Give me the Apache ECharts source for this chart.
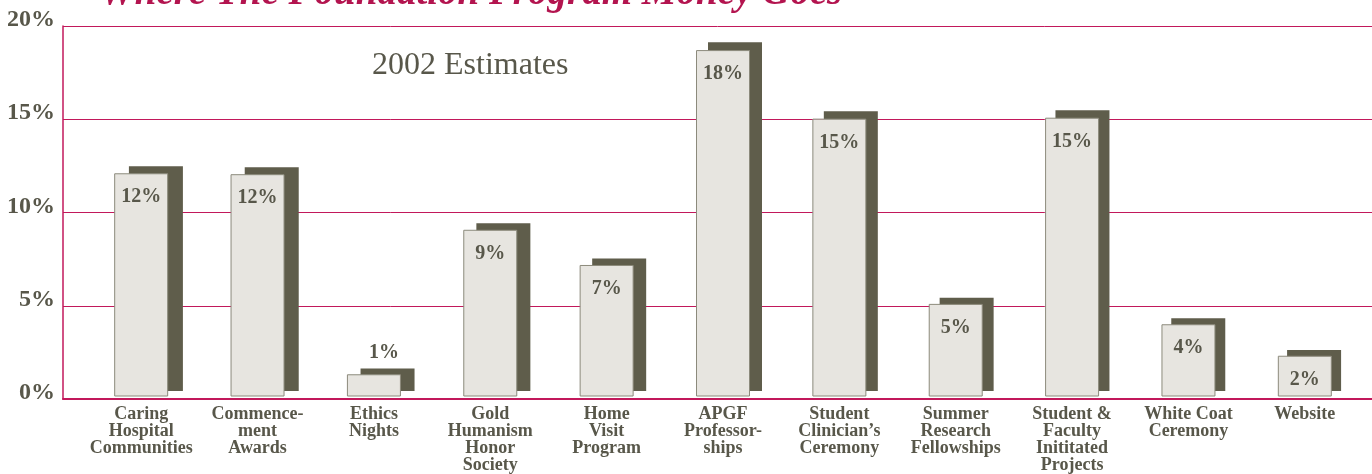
<!DOCTYPE html>
<html>
<head>
<meta charset="utf-8">
<script src="https://cdn.jsdelivr.net/npm/echarts@6/dist/echarts.min.js"></script>
<style>
  html, body { margin: 0; padding: 0; background: #fff; }
  #main { width: 1372px; height: 474px; }
</style>
</head>
<body>
<div id="main"></div>
<script>
// chart data
var categories = [
  'Caring\nHospital\nCommunities', 'Commence-\nment\nAwards', 'Ethics\nNights',
  'Gold\nHumanism\nHonor\nSociety', 'Home\nVisit\nProgram', 'APGF\nProfessor-\nships',
  'Student\nClinician\u2019s\nCeremony', 'Summer\nResearch\nFellowships',
  'Student &\nFaculty\nInititated\nProjects', 'White Coat\nCeremony', 'Website'
];
var values = [12.05, 12, 1.2, 9, 7.1, 18.7, 15, 5, 15.05, 3.9, 2.2];
var valueLabels = ['12%', '12%', '1%', '9%', '7%', '18%', '15%', '5%', '15%', '4%', '2%'];
var yTicks = [0, 5, 10, 15, 20];

var serif = '"Liberation Serif", "DejaVu Serif", serif';
var ink = '#58574a';
var crimson = '#c2185b';

var barData = values.map(function (v, i) {
  var item = { value: v };
  if (v < 1.8) {
    item.label = { position: 'top', distance: 11, offset: [10, 0] };
  }
  return item;
});

var myChart = echarts.init(document.getElementById('main'));
myChart.setOption({
  animation: false,
  backgroundColor: '#fff',
  title: [{
    text: 'Where The Foundation Program Money Goes',
    left: 95, top: -31,
    textStyle: { fontFamily: serif, fontSize: 39, fontStyle: 'italic', fontWeight: 'bold', color: '#b3144f' }
  }, {
    text: '2002 Estimates',
    left: 367, top: 45,
    textStyle: { fontFamily: serif, fontSize: 32, fontWeight: 'normal', color: ink }
  }],
  grid: [
    { left: 63, right: 0, top: 26, bottom: 75 },   // frame
    { left: 83, right: 9, top: 26, bottom: 75 },   // front bars
    { left: 98, right: -6, top: 18, bottom: 83 }   // dark back bars
  ],
  xAxis: [{
    type: 'value', gridIndex: 0, min: 0, max: 1,
    axisLine: { show: true, onZero: false, lineStyle: { color: crimson, width: 2 } },
    axisTick: { show: false }, axisLabel: { show: false }, splitLine: { show: false }
  }, {
    type: 'category', gridIndex: 1, data: categories,
    axisLine: { show: false }, axisTick: { show: false },
    axisLabel: {
      interval: 0, margin: 9, fontFamily: serif, fontSize: 18, fontWeight: 'bold',
      lineHeight: 17, color: ink
    }
  }, {
    type: 'category', gridIndex: 2, data: categories, show: false
  }],
  yAxis: [{
    type: 'value', gridIndex: 0, min: yTicks[0], max: yTicks[yTicks.length - 1], interval: 5,
    axisLine: { show: true, lineStyle: { color: crimson, width: 1.5 } },
    axisTick: { show: false },
    splitLine: { lineStyle: { color: crimson, width: 1 } },
    axisLabel: {
      formatter: '{value}%', margin: 8, fontFamily: serif, fontSize: 24, fontWeight: 'bold',
      color: ink, verticalAlign: 'bottom', lineHeight: 12
    }
  }, {
    type: 'value', gridIndex: 1, min: 0, max: 20, show: false
  }, {
    type: 'value', gridIndex: 2, min: 0, max: 20, show: false
  }],
  series: [{
    type: 'bar', xAxisIndex: 2, yAxisIndex: 2,
    data: values,
    barWidth: 54,
    silent: true,
    itemStyle: { color: '#5f5d4b' }
  }, {
    type: 'bar', xAxisIndex: 1, yAxisIndex: 1,
    data: barData,
    barWidth: 54,
    itemStyle: { color: '#e7e5e0', borderColor: '#8c8a7c', borderWidth: 1 },
    label: {
      show: true, position: 'insideTop', distance: 14,
      fontFamily: serif, fontSize: 20, fontWeight: 'bold', color: ink,
      formatter: function (p) { return valueLabels[p.dataIndex]; }
    }
  }]
});
</script>
</body>
</html>
